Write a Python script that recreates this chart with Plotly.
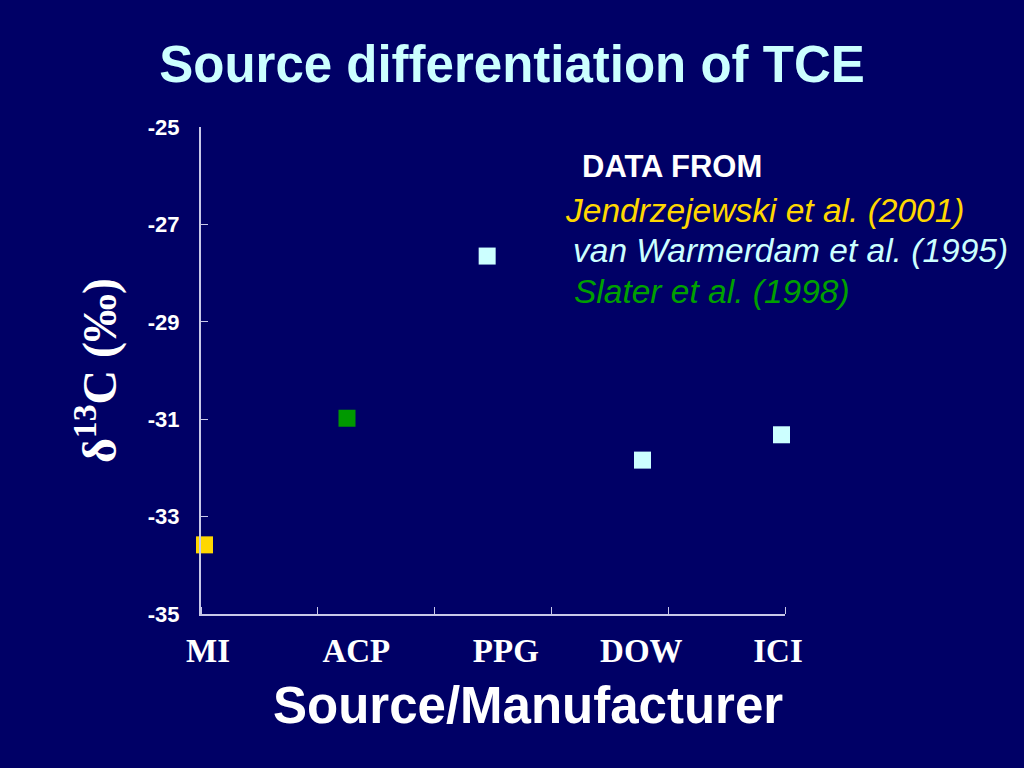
import plotly.graph_objects as go

# Data
categories = ["MI", "ACP", "PPG", "DOW", "ICI"]
x_pos = [0.03, 1.25, 2.45, 3.78, 4.97]
delta13C = [-33.58, -30.98, -27.65, -31.84, -31.32]
point_colors = ["#FFD700", "#009900", "#CCFFFF", "#CCFFFF", "#CCFFFF"]
axis_ticks_x = [0, 1, 2, 3, 4, 5]
y_ticks = [-35, -33, -31, -29, -27, -25]

# category label positions on the x axis (as laid out in the original slide)
label_x = [0.06, 1.33, 2.61, 3.77, 4.94]

bg = "#000066"
axis_col = "#C8C8E8"

fig = go.Figure()
fig.add_trace(go.Scatter(
    x=x_pos, y=delta13C, mode="markers",
    marker=dict(symbol="square", size=17, color=point_colors,
                line=dict(width=0)),
    showlegend=False, cliponaxis=False, hoverinfo="skip"))

fig.update_layout(
    width=1024, height=768,
    paper_bgcolor=bg, plot_bgcolor=bg,
    margin=dict(l=201, r=239, t=127, b=154),
    title=dict(text="<b>Source differentiation of TCE</b>",
               x=0.5, xanchor="center", y=0.917, yanchor="middle",
               font=dict(family="Liberation Sans, Arial", size=51, color="#CCFFFF")),
    xaxis=dict(range=[0, 5], tickmode="array", tickvals=label_x,
               ticktext=[f"<b>{c}</b>" for c in categories],
               ticks="", showgrid=False, zeroline=False,
               showline=True, linecolor=axis_col, linewidth=2,
               tickfont=dict(family="Liberation Serif, Times New Roman", size=33, color="white"),
               ticklabelstandoff=6,
               minor=dict(tickvals=axis_ticks_x, ticks="inside", ticklen=7,
                          tickcolor=axis_col, tickwidth=1, showgrid=False)),
    yaxis=dict(range=[-35, -25], tickmode="array", tickvals=y_ticks,
               ticktext=[f"<b>{v}</b>" for v in y_ticks],
               ticks="inside", ticklen=7, tickcolor=axis_col, tickwidth=1,
               showgrid=False, zeroline=False,
               showline=True, linecolor=axis_col, linewidth=2,
               tickfont=dict(family="Liberation Sans, Arial", size=22, color="white"),
               ticklabelstandoff=15,
               title=dict(text="<b>δ<sup>13</sup>C (‰)</b>", standoff=16,
                          font=dict(family="Liberation Serif, Times New Roman", size=48, color="white"))),
)

# x-axis title (offset to the right as in the original)
fig.add_annotation(
    text="<b>Source/Manufacturer</b>", xref="paper", yref="paper",
    x=(528 - 201) / 584, y=-(705 - 614) / 487, xanchor="center", yanchor="middle",
    showarrow=False,
    font=dict(family="Liberation Sans, Arial", size=51, color="white"))

legend_lines = [
    ("<b>DATA FROM</b>", "white", 580, 166, False, 31),
    ("Jendrzejewski et al. (2001)", "#FFD700", 563, 210, True, 33.5),
    ("van Warmerdam et al. (1995)", "#CCFFFF", 571, 250, True, 33.5),
    ("Slater et al. (1998)", "#00A000", 572, 291, True, 33.5),
]
for txt, col, px, py, it, fs in legend_lines:
    fig.add_annotation(
        text=f"<i>{txt}</i>" if it else txt,
        xref="paper", yref="paper",
        x=(px - 201) / 584, y=1 - (py - 127) / 487,
        xanchor="left", yanchor="middle", showarrow=False,
        font=dict(family="Liberation Sans, Arial", size=fs, color=col))

fig.write_html("out.html", config={"displayModeBar": False},
               post_script="document.body.style.margin='0';document.body.style.overflow='hidden';")
